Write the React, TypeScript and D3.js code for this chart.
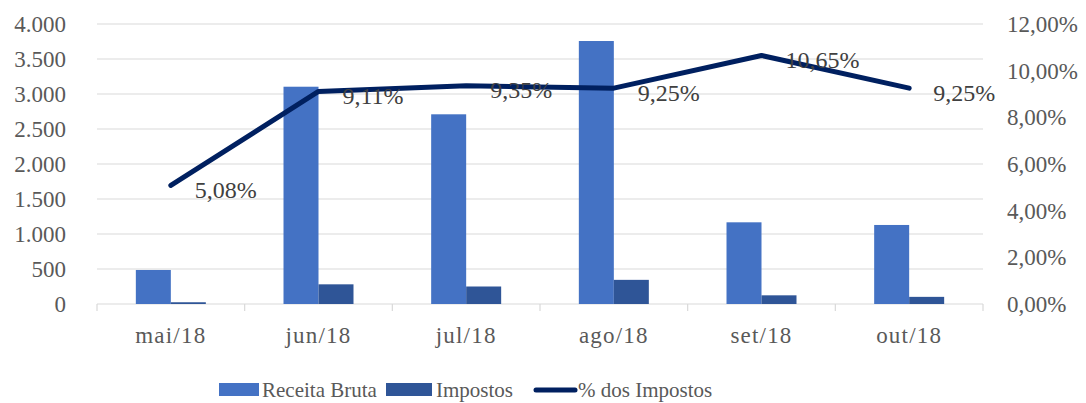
import React from "react";
import * as d3 from "d3";

const months = ["mai/18", "jun/18", "jul/18", "ago/18", "set/18", "out/18"];
const receitaBruta = [486, 3104, 2710, 3757, 1167, 1129];
const impostos = [25, 281, 250, 345, 124, 102];
const percImpostos = [5.08, 9.11, 9.35, 9.25, 10.65, 9.25];
const leftTicks = [0, 500, 1000, 1500, 2000, 2500, 3000, 3500, 4000];
const rightTicks = [0, 2, 4, 6, 8, 10, 12];

const W = 1086;
const H = 403;
const margin = { top: 24, right: 103, bottom: 99, left: 97 };
const font = "'Liberation Serif', 'Times New Roman', serif";
const axisColor = "#595959";
const labelColor = "#404040";
const cReceita = "#4472C4";
const cImpostos = "#2F5597";
const cLinha = "#002060";

const fmtLeft = (v: number) => (v >= 1000 ? `${Math.floor(v / 1000)}.${String(v % 1000).padStart(3, "0")}` : `${v}`);
const fmtPct = (v: number) => `${v.toFixed(2).replace(".", ",")}%`;

const App = () => {
  const x = d3.scaleBand().domain(months).range([margin.left, W - margin.right]).padding(0);
  const y = d3.scaleLinear().domain([0, 4000]).range([H - margin.bottom, margin.top]);
  const y2 = d3.scaleLinear().domain([0, 12]).range([H - margin.bottom, margin.top]);
  const bw = x.bandwidth();
  const barW = bw * 0.237;
  const x1 = d3
    .scaleBand()
    .domain(["receita", "impostos"])
    .range([bw / 2 - barW, bw / 2 + barW]);

  const line = d3
    .line<number>()
    .x((_, i) => (x(months[i]) as number) + bw / 2)
    .y((d) => y2(d));

  const base = y(0);

  return (
    <svg width={W} height={H} style={{ position: "absolute", left: 0, top: 0, background: "#fff" }} fontFamily={font}>
      {/* gridlines */}
      {leftTicks.map((t) => (
        <line key={t} x1={margin.left} x2={W - margin.right} y1={y(t)} y2={y(t)} stroke="#D9D9D9" strokeWidth={1.2} />
      ))}
      {/* category ticks */}
      {months.concat(["end"]).map((m, i) => {
        const xx = margin.left + i * bw;
        return <line key={m} x1={xx} x2={xx} y1={base} y2={base + 7} stroke="#D9D9D9" strokeWidth={1.2} />;
      })}
      {/* left axis labels */}
      {leftTicks.map((t) => (
        <text key={t} x={66} y={y(t)} dy="0.35em" textAnchor="end" fontSize={23} fill={axisColor}>
          {fmtLeft(t)}
        </text>
      ))}
      {/* right axis labels */}
      {rightTicks.map((t) => (
        <text key={t} x={1007} y={y2(t)} dy="0.35em" textAnchor="start" fontSize={23} fill={axisColor}>
          {fmtPct(t)}
        </text>
      ))}
      {/* bars */}
      {months.map((m, i) => (
        <g key={m} transform={`translate(${x(m)},0)`}>
          <rect x={x1("receita")} y={y(receitaBruta[i])} width={x1.bandwidth()} height={base - y(receitaBruta[i])} fill={cReceita} />
          <rect x={x1("impostos")} y={y(impostos[i])} width={x1.bandwidth()} height={base - y(impostos[i])} fill={cImpostos} />
        </g>
      ))}
      {/* line */}
      <path d={line(percImpostos) || ""} fill="none" stroke={cLinha} strokeWidth={5} strokeLinecap="round" strokeLinejoin="round" />
      {percImpostos.map((p, i) => (
        <text key={i} x={(x(months[i]) as number) + bw / 2 + 24} y={y2(p) + 4} dy="0.35em" fontSize={24} fill={labelColor}>
          {fmtPct(p)}
        </text>
      ))}
      {/* category labels */}
      {months.map((m) => (
        <text key={m} x={(x(m) as number) + bw / 2} y={343} textAnchor="middle" fontSize={23} letterSpacing={1.2} fill={axisColor}>
          {m}
        </text>
      ))}
      {/* legend */}
      <rect x={219} y={383} width={40} height={13} fill={cReceita} />
      <text x={262} y={397} fontSize={21} fill={axisColor}>Receita Bruta</text>
      <rect x={386} y={383} width={46} height={13} fill={cImpostos} />
      <text x={436} y={397} fontSize={21} fill={axisColor}>Impostos</text>
      <line x1={536} x2={575} y1={390} y2={390} stroke={cLinha} strokeWidth={5} strokeLinecap="round" />
      <text x={578} y={397} fontSize={21} fill={axisColor}>% dos Impostos</text>
    </svg>
  );
};

export default App;
